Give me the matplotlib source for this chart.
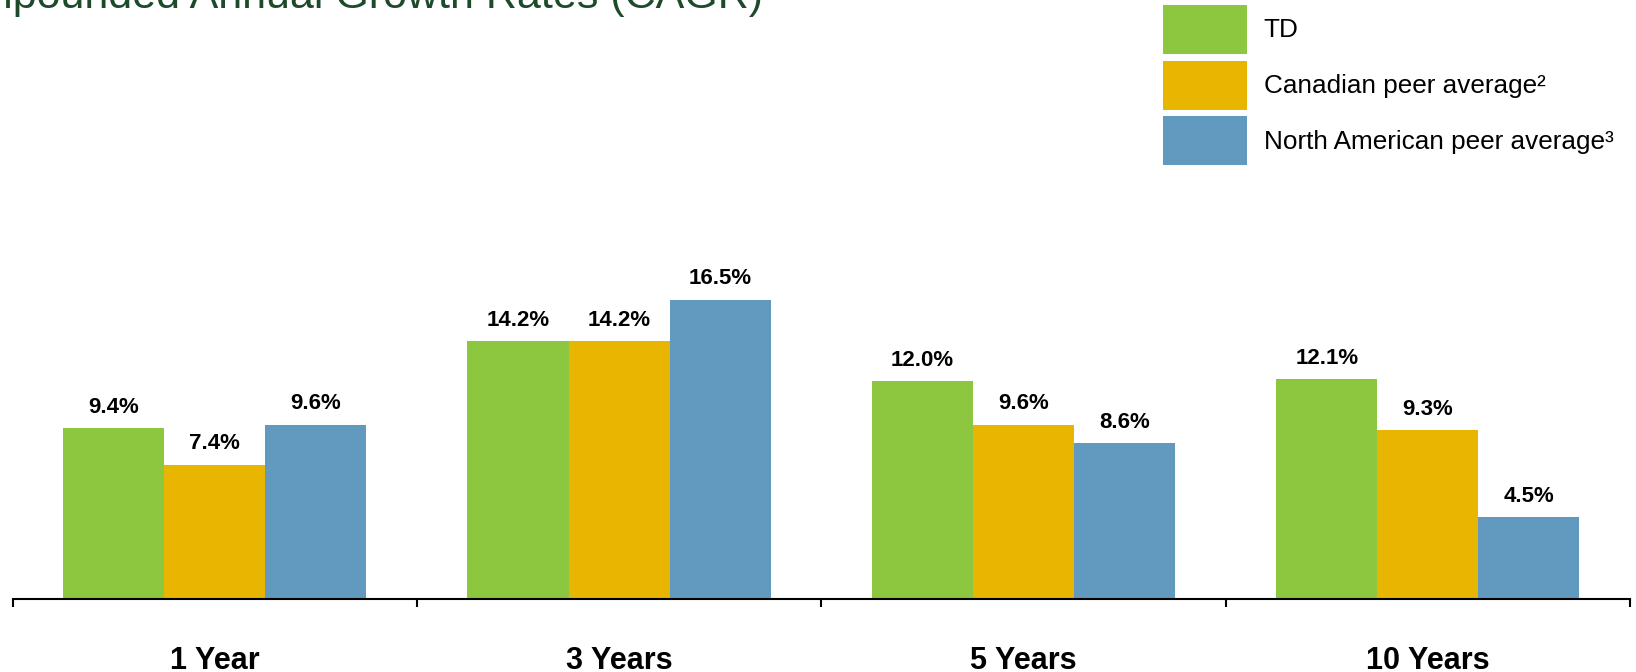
import matplotlib
matplotlib.use('Agg')
import matplotlib.pyplot as plt
from matplotlib.patches import Patch
import numpy as np

plt.rcParams['font.family'] = ['Liberation Sans', 'DejaVu Sans']

# data
periods = ['1 Year', '3 Years', '5 Years', '10 Years']
td = [9.4, 14.2, 12.0, 12.1]
cdn_peer = [7.4, 14.2, 9.6, 9.3]
na_peer = [9.6, 16.5, 8.6, 4.5]
series_names = ['TD', 'Canadian peer average\u00b2', 'North American peer average\u00b3']
colors = ['#8DC63F', '#E8B500', '#629ABF']

W, H = 1636, 672
fig = plt.figure(figsize=(W / 100, H / 100), dpi=100)
ax = fig.add_axes([12.5 / W, (H - 599) / H, (1630 - 12.5) / W, 599 / H])

x = np.arange(len(periods))
bw = 0.25
for i, (vals, c) in enumerate(zip([td, cdn_peer, na_peer], colors)):
    bars = ax.bar(x + (i - 1) * bw, vals, bw, color=c, linewidth=0)
    for b, v in zip(bars, vals):
        ax.annotate('%.1f%%' % v, (b.get_x() + b.get_width() / 2, v),
                    xytext=(0, 11), textcoords='offset points',
                    ha='center', va='baseline', fontsize=16, fontweight='bold')

ax.set_xlim(-0.5, len(periods) - 0.5)
ax.set_ylim(0, 33)
ax.set_yticks([])
for s in ['top', 'right', 'left']:
    ax.spines[s].set_visible(False)
ax.spines['bottom'].set_linewidth(1.5)

# ticks at category boundaries, labels under centres
ax.set_xticks(np.arange(-0.5, len(periods), 1.0))
ax.set_xticklabels([])
ax.tick_params(axis='x', which='major', length=6, width=1.5, direction='out')
for xi, p in zip(x, periods):
    ax.text(xi, -70 / 599, p, transform=ax.get_xaxis_transform(),
            ha='center', va='baseline', fontsize=22, fontweight='bold')

# title (cut off at the page edge as in the slide)
fig.text(-78 / W, 1 - 8 / H, 'Compounded Annual Growth Rates (CAGR)',
         fontsize=31, color='#1D4A2B', ha='left', va='baseline')

handles = [Patch(facecolor=c, edgecolor='none') for c in colors]
fig.legend(handles, series_names, loc='upper left',
           bbox_to_anchor=(1163 / W, 1 - 5 / H), frameon=False,
           fontsize=18.8, borderpad=0, borderaxespad=0,
           handlelength=3.23, handleheight=2.51, labelspacing=0.25,
           handletextpad=0.62)

fig.savefig('out.png', dpi=100)
